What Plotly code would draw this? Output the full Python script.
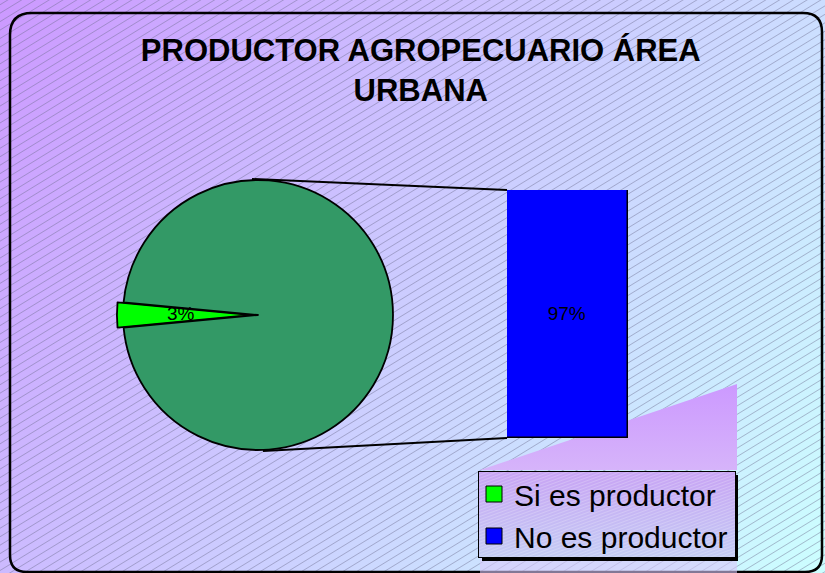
import base64

import plotly.graph_objects as go

# data
PIE_LABELS = ["Si es productor", "No es productor"]
PIE_VALUES = [3, 97]
PIE_TEXT = ["3%", ""]
BAR_LABELS = ["No es productor"]
BAR_VALUES = [97]
BAR_TEXT = ["97%"]

TITLE = "PRODUCTOR AGROPECUARIO ÁREA<br>URBANA"

# colours / geometry (pixels in an 825x573 canvas)
GREEN = "#00FF00"
DARK_GREEN = "#339966"
BLUE = "#0000FF"
FONT = "Liberation Sans, Arial, sans-serif"
W, H = 825, 573
PIE_CX, PIE_CY, PIE_R, PULL = 258, 315, 135, 0.045
BAR_X0, BAR_X1, BAR_Y0, BAR_Y1 = 507, 628, 190, 438


def px(x):
    return x / W


def py(y):
    return 1 - y / H


# background: diagonal gradient + hatch, rounded border, legend box
svg = f"""<svg xmlns="http://www.w3.org/2000/svg" width="{W}" height="{H}" viewBox="0 0 {W} {H}">
<defs>
<linearGradient id="bg" x1="0" y1="0" x2="{W}" y2="{H}" gradientUnits="userSpaceOnUse">
<stop offset="0" stop-color="#CC99FF"/><stop offset="1" stop-color="#CCFFFF"/></linearGradient>
<pattern id="hatch" width="7.2" height="7.2" patternUnits="userSpaceOnUse" patternTransform="rotate(-31.5)">
<line x1="0" y1="3.6" x2="7.2" y2="3.6" stroke="#6a6a8c" stroke-width="0.8" stroke-opacity="0.55"
 shape-rendering="crispEdges"/></pattern>
<linearGradient id="tri" x1="0" y1="0" x2="0" y2="1">
<stop offset="0" stop-color="#CC99FF"/><stop offset="1" stop-color="#D6B4FA"/></linearGradient>
<linearGradient id="leg" x1="0" y1="0" x2="0" y2="1">
<stop offset="0" stop-color="#C8A4F4"/><stop offset="1" stop-color="#C4CCF4"/></linearGradient>
<pattern id="fine" width="3" height="3" patternUnits="userSpaceOnUse" patternTransform="rotate(-20)">
<line x1="0" y1="1.5" x2="3" y2="1.5" stroke="#ffffff" stroke-width="0.6" stroke-opacity="0.35"/></pattern>
</defs>
<rect width="{W}" height="{H}" fill="url(#bg)"/>
<rect width="{W}" height="{H}" fill="url(#hatch)"/>
<path d="M10,35 Q10,13 32,13 L803,13 Q822,13 822,32 L822,555 Q822,572 805,572 L27,572 Q10,572 10,555 Z"
 fill="none" stroke="#000" stroke-width="2.5"/>
<polygon points="480,470 737,384 737,470" fill="url(#tri)"/>
<rect x="480" y="557" width="257" height="16" fill="#D8C8FA" opacity="0.6"/>
<rect x="482" y="475" width="256" height="86" fill="#000"/>
<rect x="478.5" y="471.5" width="257" height="86" fill="url(#leg)" stroke="#000" stroke-width="1"/>
<rect x="479" y="472" width="256" height="85" fill="url(#fine)"/>
</svg>"""
bg_src = "data:image/svg+xml;base64," + base64.b64encode(svg.encode()).decode()

d = PIE_R * (1 + PULL)
fig = go.Figure()
fig.add_trace(
    go.Pie(
        labels=PIE_LABELS,
        values=PIE_VALUES,
        marker={"colors": [GREEN, DARK_GREEN], "line": {"color": "black", "width": 1.8}},
        pull=[PULL, 0],
        sort=False,
        direction="clockwise",
        rotation=264.6,
        textinfo="none",
        showlegend=False,
        domain={"x": [px(PIE_CX - d), px(PIE_CX + d)], "y": [py(PIE_CY + d), py(PIE_CY - d)]},
    )
)
fig.add_trace(
    go.Bar(
        x=BAR_LABELS,
        y=BAR_VALUES,
        name=BAR_LABELS[0],
        text=BAR_TEXT,
        textposition="inside",
        insidetextanchor="middle",
        textfont={"family": FONT, "size": 19, "color": "black"},
        marker={"color": BLUE, "line": {"color": "black", "width": 1.5}},
        showlegend=False,
    )
)
# legend entries (square swatches)
for name, color in [(PIE_LABELS[0], GREEN), (BAR_LABELS[0], BLUE)]:
    fig.add_trace(
        go.Scatter(
            x=[None],
            y=[None],
            mode="markers",
            name=name,
            marker={"symbol": "square", "size": 16, "color": color,
                    "line": {"color": "black", "width": 1}},
        )
    )

# "3%" label on the pulled slice
fig.add_annotation(
    text=PIE_TEXT[0],
    x=px(PIE_CX - 0.69 * PIE_R),
    y=py(PIE_CY - 2),
    xref="paper",
    yref="paper",
    showarrow=False,
    font={"family": FONT, "size": 19, "color": "black"},
)

# connector lines pie -> bar
for y0, y1, dx in [(PIE_CY - PIE_R - 1, BAR_Y0, -6), (PIE_CY + PIE_R + 1, BAR_Y1, 5)]:
    fig.add_shape(
        type="line",
        xref="paper",
        yref="paper",
        x0=px(PIE_CX + dx),
        y0=py(y0),
        x1=px(BAR_X0),
        y1=py(y1),
        line={"color": "black", "width": 2},
    )

fig.update_layout(
    width=W,
    height=H,
    margin={"l": 0, "r": 0, "t": 0, "b": 0},
    paper_bgcolor="white",
    plot_bgcolor="rgba(0,0,0,0)",
    font={"family": FONT, "color": "black"},
    title={
        "text": f"<b>{TITLE}</b>",
        "x": 0.51,
        "xanchor": "center",
        "y": py(61),
        "yanchor": "top",
        "yref": "container",
        "font": {"size": 31, "family": FONT, "color": "black"},
    },
    images=[
        {
            "source": bg_src,
            "xref": "paper",
            "yref": "paper",
            "x": 0,
            "y": 1,
            "sizex": 1,
            "sizey": 1,
            "sizing": "stretch",
            "layer": "below",
        }
    ],
    xaxis={"domain": [px(BAR_X0), px(BAR_X1)], "range": [-0.5, 0.5], "type": "category",
           "visible": False},
    yaxis={"domain": [py(BAR_Y1), py(BAR_Y0)], "range": [0, BAR_VALUES[0]], "visible": False},
    bargap=0,
    showlegend=True,
    legend={
        "x": px(474),
        "y": py(468),
        "xanchor": "left",
        "yanchor": "top",
        "bgcolor": "rgba(0,0,0,0)",
        "borderwidth": 0,
        "font": {"family": FONT, "size": 30, "color": "black"},
        "traceorder": "normal",
    },
)

fig.write_html(
    "out.html",
    config={"displayModeBar": False},
    post_script="document.body.style.margin='0';",
)
